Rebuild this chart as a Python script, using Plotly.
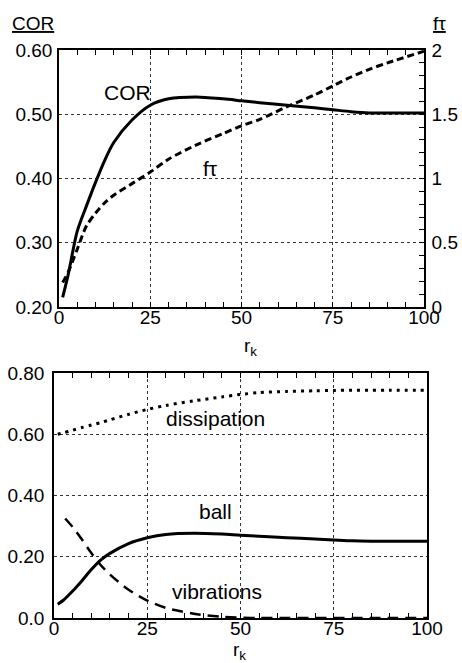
import plotly.graph_objects as go

# ---------- data (top panel) ----------
rk_top = [1, 2.5, 5, 7.5, 10, 12.5, 15, 20, 25, 30, 37.5, 45, 50, 55, 62.5, 70, 75, 80, 85, 90, 100]
cor = [0.215, 0.25, 0.318, 0.357, 0.394, 0.428, 0.456, 0.491, 0.514, 0.524, 0.527, 0.524, 0.521,
       0.518, 0.514, 0.510, 0.507, 0.504, 0.502, 0.502, 0.502]
ftau = [0.19, 0.27, 0.45, 0.63, 0.73, 0.81, 0.87, 0.96, 1.05, 1.15, 1.26, 1.35, 1.41,
        1.46, 1.56, 1.65, 1.72, 1.79, 1.85, 1.90, 1.99]

# ---------- data (bottom panel) ----------
rk_bot = [1, 2.5, 5, 7.5, 10, 12.5, 15, 20, 25, 30, 37.5, 45, 50, 55, 62.5, 70, 75, 80, 85, 90, 100]
dissipation = [0.600, 0.605, 0.613, 0.622, 0.630, 0.638, 0.647, 0.665, 0.681, 0.694, 0.709, 0.722,
               0.730, 0.736, 0.740, 0.742, 0.743, 0.744, 0.744, 0.744, 0.744]
ball = [0.045, 0.058, 0.088, 0.122, 0.158, 0.189, 0.211, 0.243, 0.262, 0.273, 0.277, 0.274,
        0.270, 0.267, 0.262, 0.258, 0.255, 0.252, 0.251, 0.251, 0.251]
rk_vib = [3, 5, 7.5, 10, 12.5, 15, 20, 25, 30, 37.5, 45, 50, 55, 62.5, 70, 75, 80, 85, 90, 100]
vibrations = [0.325, 0.297, 0.256, 0.212, 0.173, 0.142, 0.092, 0.057, 0.033, 0.014, 0.004, 0.001,
              0.0, 0.0, 0.0, 0.0, 0.0, 0.0, 0.0, 0.0]

x_ticks = [0, 25, 50, 75, 100]
ftau_ticks = [0, 0.5, 1, 1.5, 2]
ftau_ticktext = ["0", "0.5", "1", "1.5", "2"]
bot_ticks = [0, 0.2, 0.4, 0.6, 0.8]
bot_ticktext = ["0.0", "0.20", "0.40", "0.60", "0.80"]

W, H = 462, 663
FONT = "Liberation Sans, Arial, sans-serif"
FS = 19
FA = 21

def px(x):
    return x / W

def py(y):
    return 1 - y / H

fig = go.Figure()
fig.add_trace(go.Scatter(x=rk_top, y=cor, mode="lines", xaxis="x", yaxis="y",
                         line=dict(color="black", width=3, shape="spline", smoothing=0.8)))
fig.add_trace(go.Scatter(x=rk_top, y=ftau, mode="lines", xaxis="x", yaxis="y2",
                         line=dict(color="black", width=3, dash="7px,4px", shape="spline", smoothing=0.8)))
fig.add_trace(go.Scatter(x=rk_bot, y=dissipation, mode="lines", xaxis="x2", yaxis="y3",
                         line=dict(color="black", width=3, dash="3px,5px", shape="spline", smoothing=0.8)))
fig.add_trace(go.Scatter(x=rk_bot, y=ball, mode="lines", xaxis="x2", yaxis="y3",
                         line=dict(color="black", width=3, shape="spline", smoothing=0.8)))
fig.add_trace(go.Scatter(x=rk_vib, y=vibrations, mode="lines", xaxis="x2", yaxis="y3",
                         line=dict(color="black", width=2.5, dash="11px,7px", shape="spline", smoothing=0.8)))

grid = dict(showgrid=True, gridcolor="#333", gridwidth=1, griddash="dot", zeroline=False,
            automargin=False)
axline = dict(showline=True, linecolor="black", linewidth=1.5)
tickfont = dict(family=FONT, size=FS, color="black")

xcommon = dict(range=[0, 100], tickvals=x_ticks, ticks="inside", ticklen=5, tickcolor="black",
               mirror="ticks", tickfont=tickfont, ticklabelstandoff=-8,
               minor=dict(dtick=5, ticks="inside", ticklen=5, tickcolor="black", showgrid=False),
               **grid, **axline)

fig.update_layout(
    width=W, height=H,
    margin=dict(l=0, r=0, t=0, b=0, autoexpand=False),
    paper_bgcolor="white", plot_bgcolor="white",
    showlegend=False,
    font=dict(family=FONT, size=FS, color="black"),
    xaxis=dict(domain=[px(59), px(424)], anchor="y", **xcommon),
    yaxis=dict(domain=[py(307), py(50)], anchor="x", range=[0.2, 0.6], tick0=0.2, dtick=0.1,
               tickformat=".2f", ticks="", tickfont=tickfont, ticklabelstandoff=1, **grid, **axline),
    yaxis2=dict(overlaying="y", side="right", anchor="x", range=[0, 2], tickvals=ftau_ticks,
                ticktext=ftau_ticktext, ticks="inside", ticklen=5, tickcolor="black",
                ticklabelstandoff=2,
                minor=dict(dtick=0.1, ticks="inside", ticklen=5, tickcolor="black", showgrid=False),
                showgrid=False, zeroline=False, automargin=False, tickfont=tickfont, **axline),
    xaxis2=dict(domain=[px(54), px(427)], anchor="y3", **xcommon),
    yaxis3=dict(domain=[py(618), py(373)], anchor="x2", range=[0, 0.8], tickvals=bot_ticks,
                ticktext=bot_ticktext, ticks="", mirror=True, tickfont=tickfont,
                ticklabelstandoff=4, **grid, **axline),
)

ann = [
    dict(text="<u>COR</u>", x=px(33), y=py(24), xref="paper", yref="paper", size=FS),
    dict(text="<u>f\u03c4</u>", x=px(439), y=py(24), xref="paper", yref="paper", size=FS),
    dict(text="r<sub>k</sub>", x=px(250), y=py(347), xref="paper", yref="paper", size=FS),
    dict(text="r<sub>k</sub>", x=px(240), y=py(651), xref="paper", yref="paper", size=FS),
    dict(text="COR", x=18.7, y=0.5345, xref="x", yref="y", size=FA),
    dict(text="f\u03c4", x=41.5, y=0.416, xref="x", yref="y", size=FA),
    dict(text="dissipation", x=43.4, y=0.653, xref="x2", yref="y3", size=FA),
    dict(text="ball", x=43.2, y=0.349, xref="x2", yref="y3", size=FA),
    dict(text="vibrations", x=43.7, y=0.088, xref="x2", yref="y3", size=FA),
]
for a in ann:
    s = a.pop("size")
    fig.add_annotation(showarrow=False, font=dict(family=FONT, size=s, color="black"),
                       xanchor="center", yanchor="middle", **a)

fig.write_html(
    "out.html",
    config={"displayModeBar": False},
    post_script="document.body.style.margin='0';document.body.style.overflow='hidden';",
)
